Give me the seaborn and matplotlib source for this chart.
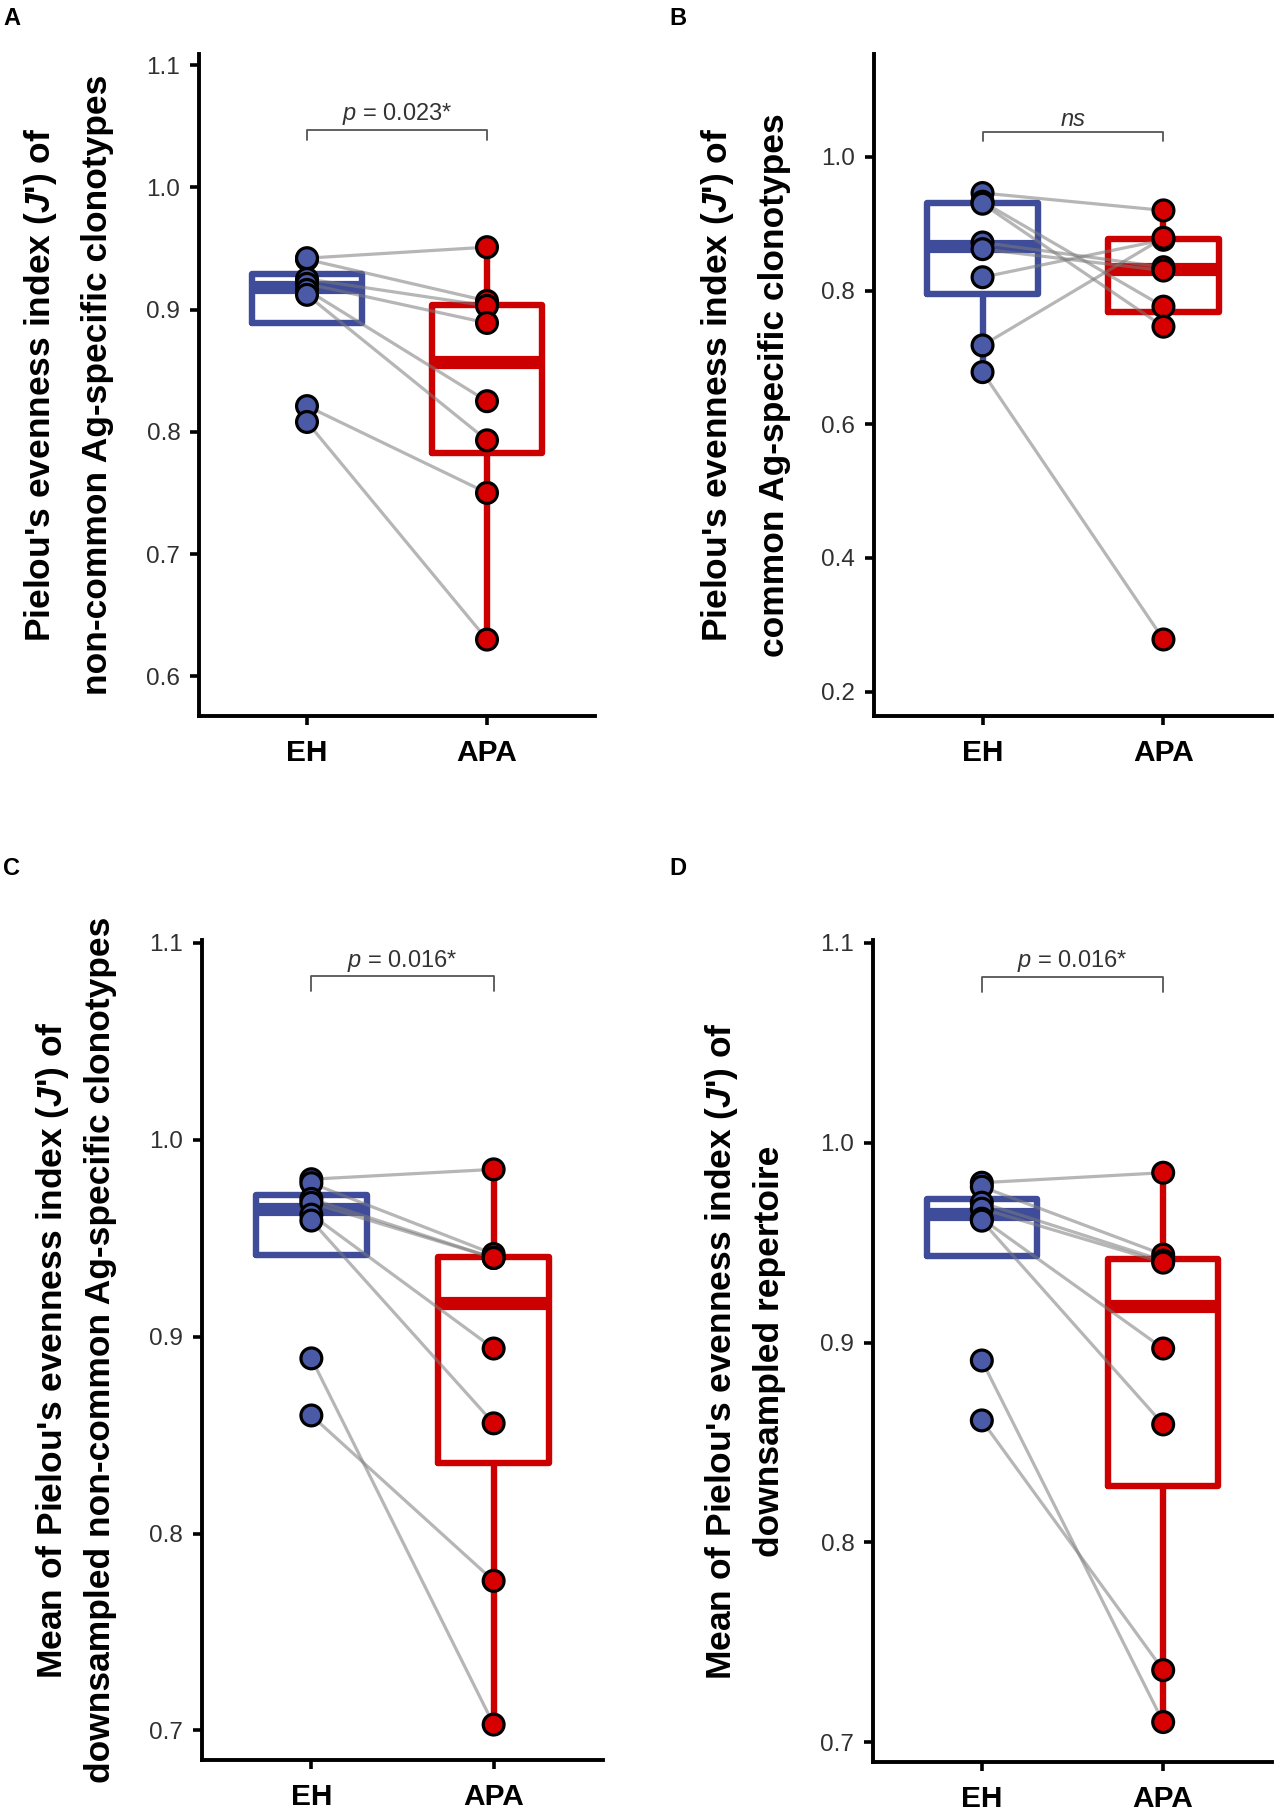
import numpy as np
import pandas as pd
import seaborn as sns
import matplotlib.pyplot as plt
from matplotlib.ticker import FormatStrFormatter

# groups and paired values (same index = same subject)
groups = ["EH", "APA"]

eh_a = [0.941, 0.942, 0.925, 0.921, 0.916, 0.912, 0.821, 0.808]
apa_a = [0.907, 0.951, 0.903, 0.889, 0.825, 0.793, 0.750, 0.630]

eh_b = [0.946, 0.933, 0.930, 0.872, 0.862, 0.820, 0.718, 0.678]
apa_b = [0.920, 0.776, 0.746, 0.835, 0.830, 0.876, 0.879, 0.278]

eh_c = [0.980, 0.978, 0.970, 0.968, 0.962, 0.959, 0.889, 0.860]
apa_c = [0.985, 0.942, 0.940, 0.940, 0.894, 0.856, 0.703, 0.776]

eh_d = [0.980, 0.978, 0.970, 0.967, 0.962, 0.961, 0.891, 0.861]
apa_d = [0.985, 0.944, 0.941, 0.940, 0.897, 0.859, 0.710, 0.736]

ticks_a = [0.6, 0.7, 0.8, 0.9, 1.0, 1.1]
ticks_b = [0.2, 0.4, 0.6, 0.8, 1.0]
ticks_c = [0.7, 0.8, 0.9, 1.0, 1.1]
ticks_d = [0.7, 0.8, 0.9, 1.0, 1.1]

jl = "($\\mathbf{J}$')"
ylab_a = f"Pielou's evenness index {jl} of\nnon-common Ag-specific clonotypes"
ylab_b = f"Pielou's evenness index {jl} of\ncommon Ag-specific clonotypes"
ylab_c = f"Mean of Pielou's evenness index {jl} of\ndownsampled non-common Ag-specific clonotypes"
ylab_d = f"Mean of Pielou's evenness index {jl} of\ndownsampled repertoire"

stat_a = "$\\it{p}$ = 0.023*"
stat_b = "ns"
stat_c = "$\\it{p}$ = 0.016*"
stat_d = "$\\it{p}$ = 0.016*"

box_pal = {"EH": "#3E4C9A", "APA": "#CC0000"}
pt_pal = {"EH": "#4B5AA6", "APA": "#D70000"}

sns.set_style("ticks")
plt.rcParams["font.family"] = ["Liberation Sans", "DejaVu Sans"]
plt.rcParams["mathtext.fontset"] = "custom"
plt.rcParams["mathtext.rm"] = "Liberation Sans"
plt.rcParams["mathtext.it"] = "Liberation Sans:italic"
plt.rcParams["mathtext.bf"] = "Liberation Sans:bold:italic"
plt.rcParams["axes.edgecolor"] = "black"
plt.rcParams["xtick.color"] = "black"
plt.rcParams["ytick.color"] = "black"
plt.rcParams["text.color"] = "black"
plt.rcParams["axes.labelcolor"] = "black"

fig = plt.figure(figsize=(12.8, 18.14), dpi=100)
W, H = 1280, 1814


def add_ax(l, r, t, b):
    return fig.add_axes([l / W, 1 - b / H, (r - l) / W, (b - t) / H])


panels = [
    # letter, axes box(px), eh, apa, ylabel, ylim, ticks, stat, bracket tick/bar/text y, label x, linespacing
    ("A", (199, 595, 54, 716), eh_a, apa_a, ylab_a, (0.5675, 1.109), ticks_a, stat_a,
     (1.0385, 1.0467, 1.055), -0.33, 1.85, (3, 7)),
    ("B", (874, 1272, 54, 716), eh_b, apa_b, ylab_b, (0.1635, 1.154), ticks_b, stat_b,
     (1.024, 1.037, 1.047), -0.325, 1.85, (669, 7)),
    ("C", (202, 603, 940, 1760), eh_c, apa_c, ylab_c, (0.685, 1.1015), ticks_c, stat_c,
     (1.0755, 1.083, 1.088), -0.315, 1.5, (3, 857)),
    ("D", (873, 1272, 940, 1762), eh_d, apa_d, ylab_d, (0.690, 1.1015), ticks_d, stat_d,
     (1.0755, 1.083, 1.088), -0.322, 1.5, (669, 857)),
]

for letter, box, eh, apa, ylab, ylim, ticks, stat, br, labx, lsp, lpos in panels:
    ax = add_ax(*box)
    n = len(eh)
    df = pd.DataFrame({
        "pair": list(range(n)) * 2,
        "group": ["EH"] * n + ["APA"] * len(apa),
        "value": eh + apa,
    })
    df["xpos"] = df["group"].map({g: i for i, g in enumerate(groups)})

    sns.boxplot(data=df, x="group", y="value", hue="group", order=groups,
                hue_order=groups, palette=box_pal, fill=False, width=0.61,
                linewidth=4.6, showfliers=False, showcaps=False, whis=1.5,
                medianprops={"linewidth": 9.5}, legend=False, ax=ax)
    sns.lineplot(data=df, x="xpos", y="value", units="pair", estimator=None,
                 color="#7a7a7a", alpha=0.55, linewidth=2.3, ax=ax,
                 legend=False, zorder=3)
    sns.stripplot(data=df, x="group", y="value", hue="group", order=groups,
                  hue_order=groups, palette=pt_pal, jitter=False, size=15,
                  linewidth=2.3, edgecolor="black", legend=False, ax=ax,
                  zorder=4)

    ax.set_xlim(-0.6, 1.6)
    ax.set_ylim(*ylim)
    ax.set_yticks(ticks)
    ax.yaxis.set_major_formatter(FormatStrFormatter("%.1f"))
    ax.set_xticks([0, 1])
    ax.set_xticklabels(groups, fontsize=21.5, fontweight="bold")
    ax.set_xlabel("")
    ax.tick_params(axis="y", labelsize=17.5, labelcolor="#303030", length=6.5,
                   width=2.6, pad=7)
    ax.tick_params(axis="x", length=6.5, width=2.6, pad=10)
    sns.despine(ax=ax)
    for s in ("left", "bottom"):
        ax.spines[s].set_linewidth(2.8)

    ax.set_ylabel(ylab, fontsize=25.5, fontweight="bold", linespacing=lsp,
                  va="center", multialignment="center", color="black")
    ax.yaxis.set_label_coords(labx, 0.5)

    tk, bar, ty = br
    ax.plot([0, 0, 1, 1], [tk, bar, bar, tk], color="#555555", lw=1.3,
            clip_on=False, zorder=5)
    ax.text(0.5, ty, stat, ha="center", va="baseline", fontsize=17,
            color="#333333", fontstyle="italic" if stat == "ns" else "normal")

    fig.text(lpos[0] / W, 1 - lpos[1] / H, letter, fontsize=17,
             fontweight="bold", ha="left", va="top")

fig.savefig("out.png", dpi=100)
